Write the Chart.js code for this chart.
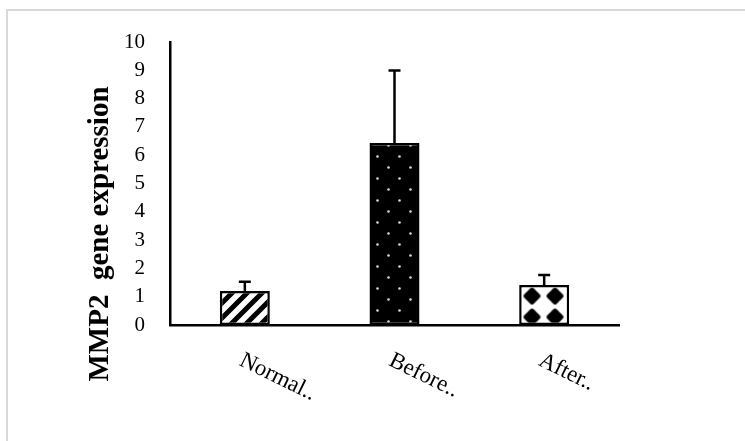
<!DOCTYPE html>
<html>
<head>
<meta charset="utf-8">
<script src="https://cdn.jsdelivr.net/npm/chart.js@4.4.1/dist/chart.umd.min.js"></script>
<style>
  html, body { margin: 0; padding: 0; background: #ffffff; overflow: hidden; }
  #frame {
    position: absolute; left: 6px; top: 9px; width: 800px; height: 500px;
    border-top: 2px solid #d9d9d9; border-left: 2px solid #d9d9d9;
  }
  #wrap { position: absolute; left: 0; top: 0; width: 745px; height: 441px; }
</style>
</head>
<body>
<div id="frame"></div>
<div id="wrap"><canvas id="chart" width="745" height="441"></canvas></div>
<script>
// MMP2 expression per group, with upper error bars
const categories = ['Normal..', 'Before..', 'After..'];
const meanValues = [1.2, 6.43, 1.41];
const errorValues = [0.33, 2.56, 0.36];
const yAxisMin = 0;
const yAxisMax = 10;
const yAxisStep = 1;
const yAxisTitle = 'MMP2  gene expression';

const serif = '"Liberation Serif", "Times New Roman", serif';

// Fill patterns for the three bars
function hatchPattern(ctx) {
  const s = 15;
  const c = document.createElement('canvas');
  c.width = s; c.height = s;
  const g = c.getContext('2d');
  g.fillStyle = '#ffffff';
  g.fillRect(0, 0, s, s);
  g.strokeStyle = '#000000';
  g.lineWidth = 5;
  g.beginPath();
  g.moveTo(-s, s); g.lineTo(s, -s);
  g.moveTo(0, s); g.lineTo(s, 0);
  g.moveTo(0, 2 * s); g.lineTo(2 * s, 0);
  g.stroke();
  return ctx.createPattern(c, 'repeat');
}

function dotPattern(ctx) {
  const s = 22;
  const c = document.createElement('canvas');
  c.width = s; c.height = s;
  const g = c.getContext('2d');
  g.fillStyle = '#000000';
  g.fillRect(0, 0, s, s);
  g.fillStyle = '#d8d8d8';
  [[5.5, 5.5], [16.5, 16.5]].forEach(([x, y]) => {
    g.beginPath(); g.arc(x, y, 1.3, 0, Math.PI * 2); g.fill();
  });
  const p = ctx.createPattern(c, 'repeat');
  p.setTransform(new DOMMatrix().translate(372, 151));
  return p;
}

function diamondPattern(ctx) {
  const w = 23, h = 21;
  const c = document.createElement('canvas');
  c.width = w; c.height = h;
  const g = c.getContext('2d');
  g.fillStyle = '#ffffff';
  g.fillRect(0, 0, w, h);
  g.fillStyle = '#000000';
  g.lineJoin = 'round';
  g.strokeStyle = '#000000';
  g.lineWidth = 4;
  const cx = w / 2, cy = h / 2, r = 6.5;
  g.beginPath();
  g.moveTo(cx, cy - r); g.lineTo(cx + r, cy); g.lineTo(cx, cy + r); g.lineTo(cx - r, cy);
  g.closePath();
  g.fill(); g.stroke();
  const p = ctx.createPattern(c, 'repeat');
  p.setTransform(new DOMMatrix().translate(532 - w / 2, 296 - h / 2));
  return p;
}

// Upper error bars drawn on top of each bar
const errorBarPlugin = {
  id: 'errorBars',
  afterDatasetsDraw(chart) {
    const { ctx, scales } = chart;
    const meta = chart.getDatasetMeta(0);
    ctx.save();
    ctx.strokeStyle = '#000000';
    ctx.lineWidth = 2.5;
    meta.data.forEach((bar, i) => {
      const yTop = scales.y.getPixelForValue(meanValues[i] + errorValues[i]);
      const yBase = scales.y.getPixelForValue(meanValues[i]);
      ctx.beginPath();
      ctx.moveTo(bar.x, yBase);
      ctx.lineTo(bar.x, yTop);
      ctx.moveTo(bar.x - 6, yTop);
      ctx.lineTo(bar.x + 6, yTop);
      ctx.stroke();
    });
    ctx.restore();
  }
};

// Slanted category labels and the vertical axis title
const labelPlugin = {
  id: 'labels',
  afterDraw(chart) {
    const { ctx, scales } = chart;
    ctx.save();
    ctx.fillStyle = '#000000';
    ctx.font = '23px ' + serif;
    ctx.textAlign = 'left';
    ctx.textBaseline = 'top';
    categories.forEach((label, i) => {
      const x = scales.x.getPixelForValue(i);
      ctx.save();
      ctx.translate(x + 1, 349);
      ctx.rotate(26 * Math.PI / 180);
      ctx.fillText(label, 0, 0);
      ctx.restore();
    });
    ctx.font = 'bold 29px ' + serif;
    ctx.textAlign = 'center';
    ctx.textBaseline = 'middle';
    ctx.translate(101, 234);
    ctx.rotate(-Math.PI / 2);
    ctx.fillText(yAxisTitle, 0, 0);
    ctx.restore();
  }
};

const canvas = document.getElementById('chart');
const ctx = canvas.getContext('2d');

new Chart(ctx, {
  type: 'bar',
  data: {
    labels: categories,
    datasets: [{
      data: meanValues,
      backgroundColor: [hatchPattern(ctx), dotPattern(ctx), diamondPattern(ctx)],
      borderColor: '#000000',
      borderWidth: 2.5,
      borderSkipped: false,
      barPercentage: 1,
      categoryPercentage: 0.334
    }]
  },
  options: {
    responsive: false,
    animation: false,
    devicePixelRatio: 1,
    layout: { padding: { left: 0, top: 42, right: 126, bottom: 0 } },
    plugins: {
      legend: { display: false },
      tooltip: { enabled: false },
      title: { display: false }
    },
    scales: {
      x: {
        grid: { display: false, drawTicks: false },
        border: { display: true, color: '#000000', width: 2.5 },
        ticks: { display: false },
        afterFit(scale) { scale.height = 116; }
      },
      y: {
        min: yAxisMin,
        max: yAxisMax,
        grid: { display: false, drawTicks: false },
        border: { display: true, color: '#000000', width: 2.5 },
        ticks: {
          stepSize: yAxisStep,
          padding: 25,
          color: '#000000',
          font: { family: serif, size: 21 }
        },
        afterFit(scale) { scale.width = 170; }
      }
    }
  },
  plugins: [errorBarPlugin, labelPlugin]
});
</script>
</body>
</html>
